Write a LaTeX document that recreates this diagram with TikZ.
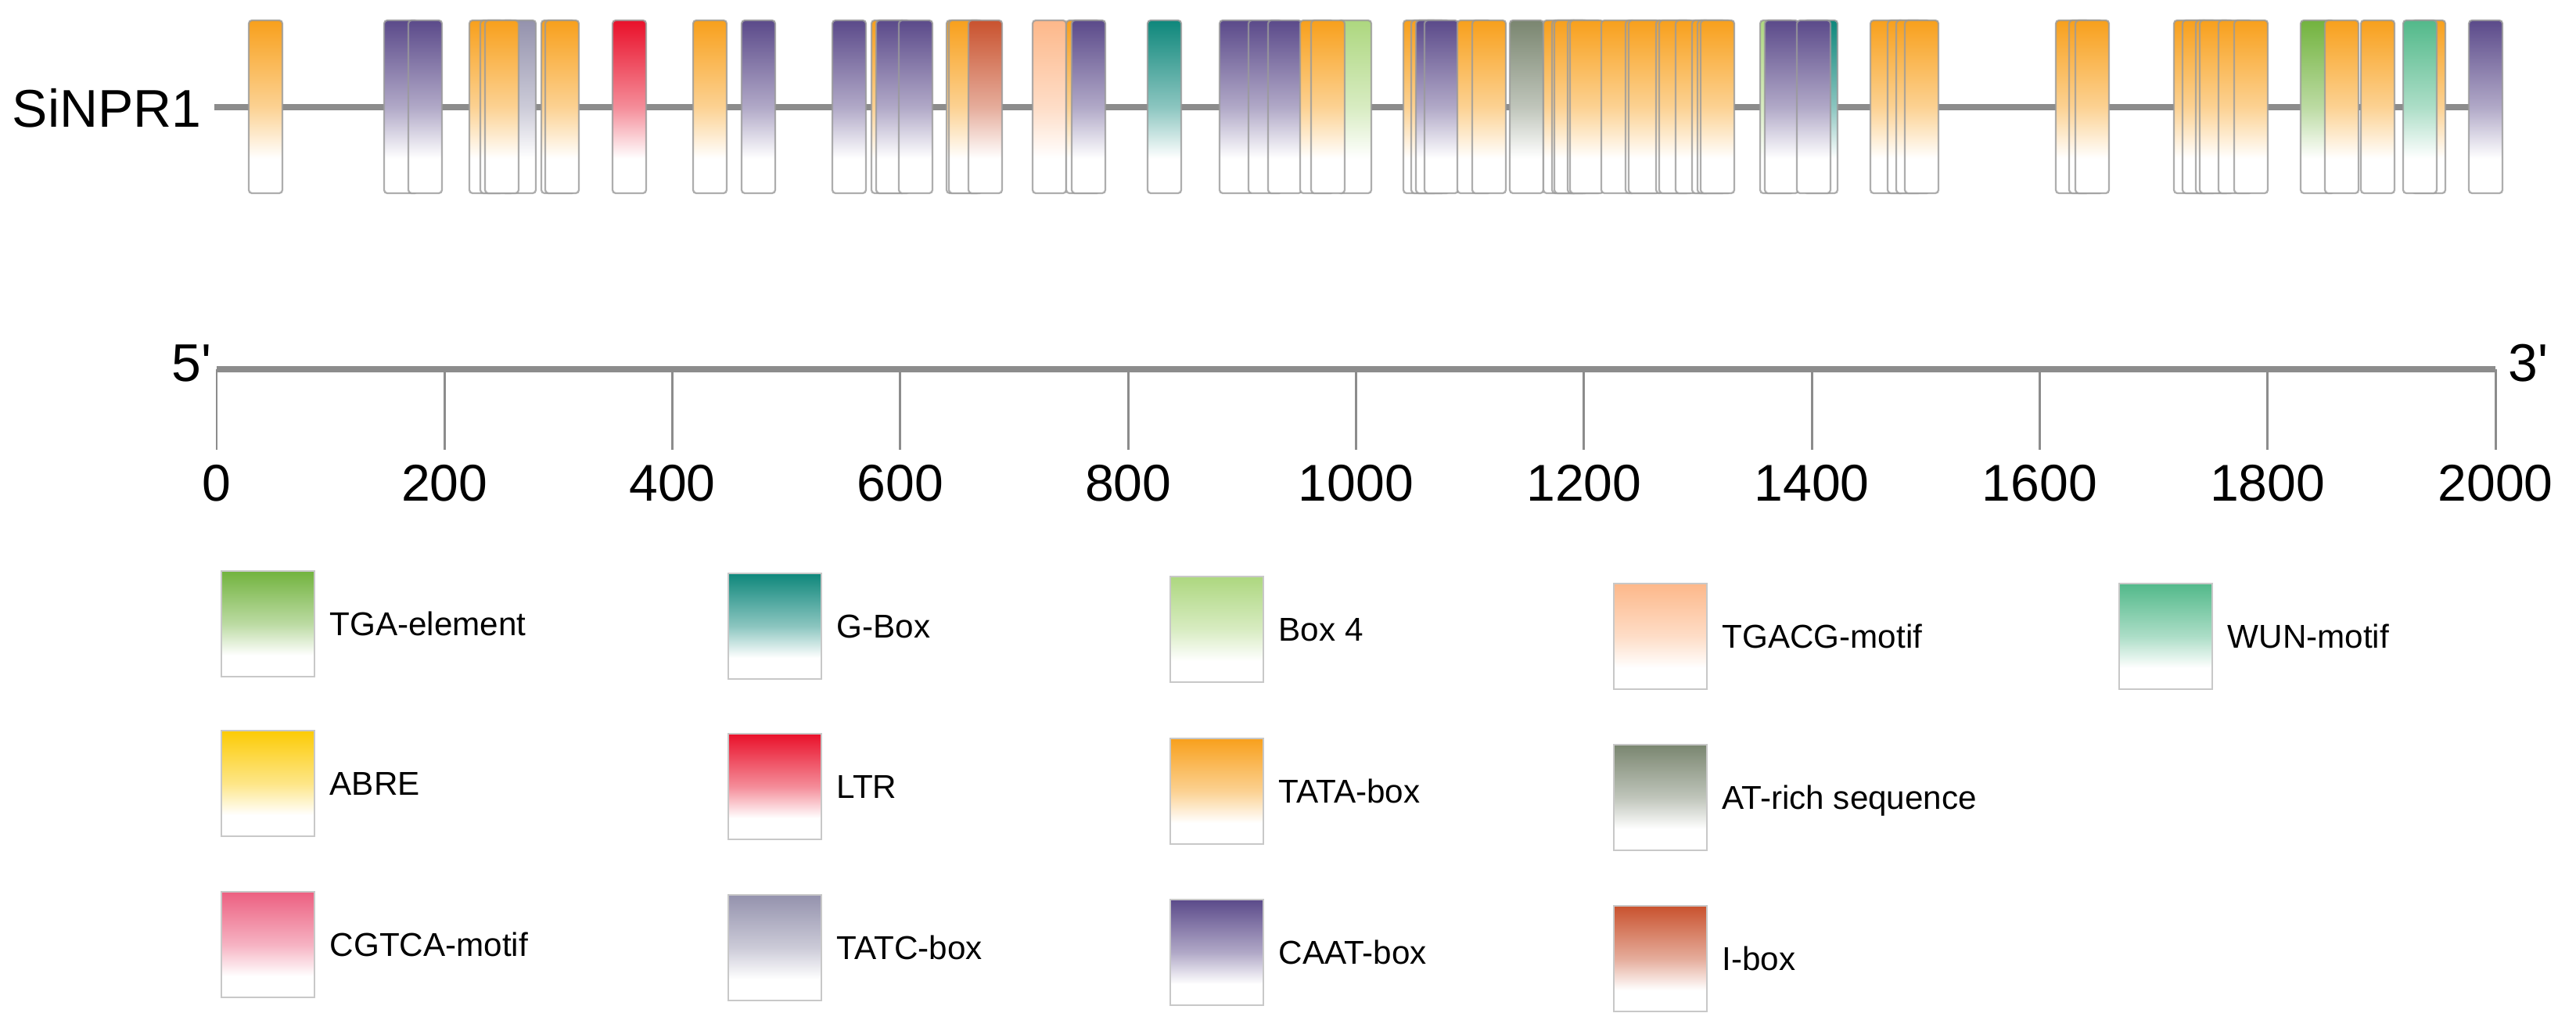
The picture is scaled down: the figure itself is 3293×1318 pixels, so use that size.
\documentclass[tikz,border=0pt]{standalone}
\usepackage{fontspec}
\setmainfont{Liberation Sans}
\definecolor{cTGA}{HTML}{72B33E}
\definecolor{cABRE}{HTML}{FCCB05}
\definecolor{cCGTCA}{HTML}{EC5F80}
\definecolor{cGBOX}{HTML}{0E877B}
\definecolor{cLTR}{HTML}{E9102A}
\definecolor{cTATC}{HTML}{9492AD}
\definecolor{cBOXF}{HTML}{ADD77F}
\definecolor{cTATA}{HTML}{F8A01C}
\definecolor{cCAAT}{HTML}{5B4A8A}
\definecolor{cTGACG}{HTML}{FDB88A}
\definecolor{cAT}{HTML}{7A8670}
\definecolor{cIBOX}{HTML}{C9522E}
\definecolor{cWUN}{HTML}{52B98A}
\definecolor{boxline}{HTML}{9A9A9A}
\definecolor{legline}{HTML}{C8C8C8}
\definecolor{linegray}{HTML}{8C8C8C}
\newcommand\mkshade[1]{\pgfdeclareverticalshading{sh#1}{100bp}{color(0bp)=(white); color(35bp)=(white); color(50bp)=(c#1!48!white); color(63bp)=(c#1!75!white); color(75bp)=(c#1); color(100bp)=(c#1)}}
\mkshade{TGA}\mkshade{ABRE}\mkshade{CGTCA}\mkshade{GBOX}\mkshade{LTR}\mkshade{TATC}\mkshade{BOXF}
\mkshade{TATA}\mkshade{CAAT}\mkshade{TGACG}\mkshade{AT}\mkshade{IBOX}\mkshade{WUN}
\begin{document}
\begin{tikzpicture}[x=0.01cm,y=-0.01cm,
  elem/.style={draw=boxline, draw opacity=0.8, line width=0.65pt, rounded corners=1.2pt,
    minimum width=0.43cm, minimum height=2.21cm, inner sep=0pt, outer sep=0pt, shade},
  legbox/.style={draw=legline, line width=0.6pt, minimum width=1.19cm, minimum height=1.35cm,
    inner sep=0pt, outer sep=0pt, shade},
  legtext/.style={anchor=base west, inner sep=0pt, font=\fontsize{12}{14}\selectfont},
  ticklab/.style={anchor=base, inner sep=0pt, font=\fontsize{18.8}{22}\selectfont},
  biglab/.style={inner sep=0pt, font=\fontsize{19.3}{22}\selectfont},
  thickline/.style={draw=linegray, line width=2pt},
  tickline/.style={draw=linegray, line width=0.85pt}]
\useasboundingbox (0,0) rectangle (3293,1318);

% gene line
\node[biglab, anchor=base east] (gene) at (258,162) {SiNPR1};
\coordinate (gs) at (274,137);
\coordinate (ge) at (3170,137);
\draw[thickline] (gs) -- (ge);

% elements
\foreach \t/\x [count=\i] in {
  TATA/318,
  CAAT/491, CAAT/522,
  TATA/600, TATC/642, TATA/614, TATA/620,
  TATA/692, TATA/697,
  LTR/783,
  TATA/886,
  CAAT/948,
  CAAT/1064,
  TATA/1114, CAAT/1120, CAAT/1149,
  TATA/1210, TATA/1213, IBOX/1238,
  TGACG/1320, TATA/1363, CAAT/1370,
  GBOX/1467,
  CAAT/1559, CAAT/1596, CAAT/1621, BOXF/1710, TATA/1662, TATA/1676,
  TATA/1794, TATA/1804, CAAT/1810, CAAT/1821, TATA/1863, TATA/1882,
  AT/1930, TATA/1973, TATA/1984, TATA/1987, TATA/2004, TATA/2007, TATA/2047,
  TATA/2078, TATA/2082, TATA/2117, TATA/2121, TATA/2142, TATA/2163, TATA/2170, TATA/2174,
  BOXF/2250, CAAT/2256, GBOX/2306, CAAT/2297,
  TATA/2391, TATA/2413, TATA/2424, TATA/2435,
  TATA/2628, TATA/2645, TATA/2653,
  TATA/2779, TATA/2790, TATA/2807, TATA/2812, TATA/2836, TATA/2856,
  TGA/2941, TATA/2972, TATA/3018, TATA/3083, WUN/3072,
  CAAT/3156}
{
  \node[elem, shading/.expanded=sh\t] (e\i) at (\x+21.5,136.5) {};
}

% scale
\coordinate (a0) at (277,472);
\coordinate (a1) at (3190,472);
\draw[thickline] (a0) -- (a1);
\foreach \v [count=\i from 0] in {0,200,...,2000}
{
  \coordinate (t\i) at (277+\i*291.3,472);
  \coordinate (tb\i) at (277+\i*291.3,575);
  \draw[tickline] (t\i) -- (tb\i);
  \node[ticklab] (l\i) at (277+\i*291.3,640) {\v};
}
\node[biglab, anchor=base east] (p5) at (271,487) {5\textquotesingle};
\node[biglab, anchor=base west] (p3) at (3206,487) {3\textquotesingle};

% legend
\foreach \lx/\ly/\t/\lab [count=\i] in {
  283/730/TGA/TGA-element, 283/934/ABRE/ABRE, 283/1140/CGTCA/CGTCA-motif,
  931/733/GBOX/G-Box, 931/938/LTR/LTR, 931/1144/TATC/TATC-box,
  1496/737/BOXF/Box 4, 1496/944/TATA/TATA-box, 1496/1150/CAAT/CAAT-box,
  2063/746/TGACG/TGACG-motif, 2063/952/AT/AT-rich sequence, 2063/1158/IBOX/I-box,
  2709/746/WUN/WUN-motif}
{
  \node[legbox, shading/.expanded=sh\t] (k\i) at (\lx+59.5,\ly+67.5) {};
  \node[legtext] (kt\i) at (\lx+138,\ly+82.5) {\lab};
}
\end{tikzpicture}
\end{document}
